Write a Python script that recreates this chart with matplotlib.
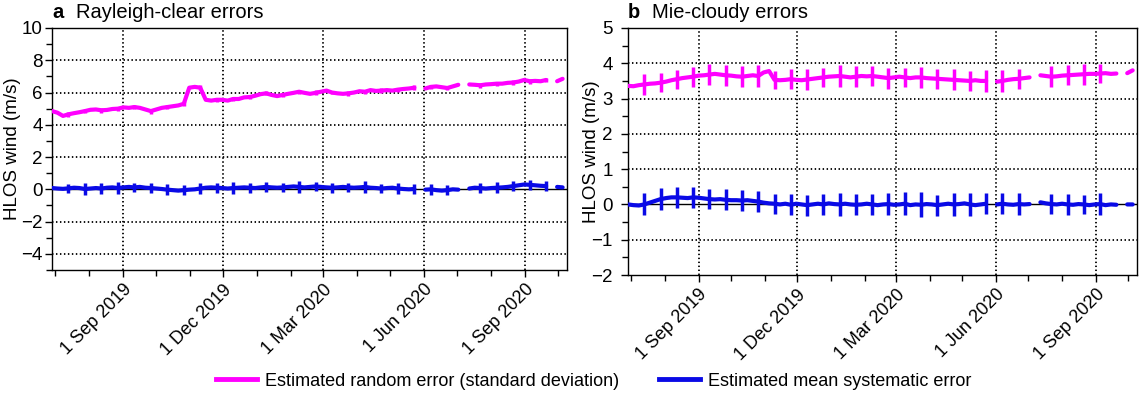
import numpy as np
import pandas as pd
import matplotlib
matplotlib.use('Agg')
import matplotlib.pyplot as plt
import matplotlib.dates as mdates
from matplotlib.ticker import MultipleLocator, FuncFormatter

plt.rcParams['font.family'] = ['Liberation Sans', 'DejaVu Sans']

nan = np.nan

# sample every 5 days from 28 Jun 2019, error bars on every 3rd sample
start_date = '2019-06-28'
n_points = 94

# panel a: Rayleigh-clear
ray_random = [4.85, 4.75, 4.55, 4.65, 4.72, 4.78, 4.85, 4.93, 4.95, 4.90,
              4.92, 4.98, 5.00, 5.08, 5.05, 5.10, 5.05, 4.95, 4.85, 4.95,
              5.05, 5.10, 5.15, 5.20, 5.30, 6.30, 6.35, 6.30, 5.55, 5.50,
              5.55, 5.55, 5.50, 5.60, 5.60, 5.70, 5.72, 5.80, 5.90, 5.95,
              5.85, 5.78, 5.85, 5.92, 5.98, 6.05, 5.98, 5.92, 5.98, 6.05,
              6.12, 6.00, 5.95, 5.92, 5.95, 6.00, 6.08, 6.05, 6.15, 6.10,
              6.12, 6.15, 6.12, 6.18, 6.22, 6.25, 6.30, nan, 6.25, 6.35,
              6.38, 6.33, 6.28, 6.38, 6.48, nan, 6.50, 6.48, 6.45, 6.50,
              6.52, 6.55, 6.55, 6.60, 6.62, 6.68, 6.78, 6.70, 6.72, 6.70,
              6.78, nan, 6.70, 6.85]
ray_system = [0.08, 0.05, 0.03, 0.06, 0.10, 0.08, 0.02, 0.05, 0.08, 0.05,
              0.10, 0.12, 0.08, 0.12, 0.15, 0.12, 0.15, 0.10, 0.08, 0.05,
              0.02, -0.02, -0.05, -0.08, -0.05, -0.02, 0.00, 0.05, 0.10, 0.12,
              0.10, 0.08, 0.05, 0.08, 0.10, 0.12, 0.10, 0.08, 0.12, 0.15,
              0.12, 0.10, 0.12, 0.15, 0.18, 0.15, 0.12, 0.15, 0.18, 0.15,
              0.12, 0.10, 0.12, 0.15, 0.12, 0.10, 0.12, 0.15, 0.10, 0.08,
              0.05, 0.08, 0.10, 0.05, 0.02, 0.00, 0.02, nan, -0.02, 0.00,
              -0.05, -0.08, -0.05, 0.00, -0.02, nan, 0.05, 0.10, 0.08, 0.05,
              0.08, 0.10, 0.12, 0.15, 0.20, 0.25, 0.30, 0.28, 0.25, 0.22,
              0.20, nan, 0.15, 0.12]
ray_random_bar = [0.15, 0.12, 0.15, 0.12, 0.15, 0.15, 0.12, 0.15, 0.15, 0.12,
                  0.12, 0.15, 0.12, 0.15, 0.12, 0.15, 0.12, 0.15, 0.12, 0.15,
                  0.12, 0.15, 0.12, 0.12, 0.12, 0.15, 0.12, 0.15, 0.15, 0.12,
                  nan]
ray_system_bar = [0.30, 0.35, 0.32, 0.35, 0.30, 0.32, 0.35, 0.30, 0.32, 0.30,
                  0.35, 0.30, 0.32, 0.30, 0.35, 0.30, 0.32, 0.30, 0.35, 0.30,
                  0.32, 0.30, 0.35, 0.32, 0.30, 0.30, 0.35, 0.30, 0.32, 0.30,
                  nan]

# panel b: Mie-cloudy
mie_random = [3.36, 3.35, 3.38, 3.40, 3.42, 3.43, 3.45, 3.48, 3.52, 3.55,
              3.58, 3.60, 3.62, 3.65, 3.66, 3.68, 3.70, 3.68, 3.66, 3.65,
              3.63, 3.62, 3.64, 3.66, 3.64, 3.74, 3.78, 3.53, 3.52, 3.53,
              3.55, 3.53, 3.52, 3.54, 3.56, 3.58, 3.60, 3.62, 3.63, 3.64,
              3.62, 3.60, 3.62, 3.64, 3.63, 3.64, 3.62, 3.60, 3.58, 3.60,
              3.62, 3.60, 3.58, 3.60, 3.60, 3.58, 3.57, 3.56, 3.55, 3.54,
              3.53, 3.52, 3.51, 3.50, 3.52, 3.50, 3.50, nan, 3.48, 3.50,
              3.53, 3.55, 3.56, 3.58, 3.60, nan, 3.66, 3.64, 3.62, 3.63,
              3.65, 3.66, 3.67, 3.68, 3.69, 3.70, 3.70, 3.71, 3.72, 3.70,
              3.71, nan, 3.72, 3.80]
mie_system = [0.00, -0.02, -0.03, 0.00, 0.05, 0.10, 0.15, 0.18, 0.20, 0.20,
              0.19, 0.18, 0.20, 0.19, 0.17, 0.15, 0.14, 0.15, 0.13, 0.12,
              0.12, 0.11, 0.12, 0.10, 0.08, 0.05, 0.03, 0.02, 0.00, 0.02,
              -0.01, 0.02, 0.00, -0.02, 0.00, 0.02, 0.00, 0.03, 0.01, 0.00,
              0.02, 0.00, -0.01, 0.00, 0.02, 0.00, -0.02, 0.00, 0.01, -0.01,
              0.00, 0.02, -0.02, 0.00, -0.01, 0.01, 0.00, -0.02, 0.00, 0.02,
              0.00, 0.01, 0.03, 0.00, -0.02, 0.00, 0.02, nan, 0.00, 0.02,
              0.00, -0.01, 0.01, 0.00, 0.01, nan, 0.06, 0.03, 0.01, 0.00,
              0.02, 0.00, -0.01, 0.01, 0.00, -0.02, 0.00, 0.01, -0.02, 0.00,
              -0.01, nan, 0.00, 0.00]
mie_random_bar = [0.30, 0.27, 0.27, 0.28, 0.30, 0.30, 0.29, 0.32, 0.25, 0.28,
                  0.30, 0.28, 0.30, 0.29, 0.28, 0.30, 0.28, 0.30, 0.29, 0.30,
                  0.28, 0.32, 0.30, 0.28, 0.28, 0.30, 0.28, 0.30, 0.28, nan,
                  nan]
mie_system_bar = [0.31, 0.31, 0.30, 0.30, 0.28, 0.30, 0.30, 0.30, 0.28, 0.30,
                  0.30, 0.30, 0.32, 0.30, 0.30, 0.30, 0.32, 0.36, 0.30, 0.32,
                  0.32, 0.30, 0.30, 0.30, 0.30, 0.28, 0.30, 0.28, 0.30, nan,
                  nan]

date_ticks = ['2019-09-01', '2019-12-01', '2020-03-01', '2020-06-01', '2020-09-01']
x_range = ('2019-06-28', '2020-10-09')

MAGENTA = '#ff00ff'
BLUE = '#0a0ae6'


def date_label(x, pos=None):
    d = mdates.num2date(x)
    return f"{d.day} {d.strftime('%b %Y')}"


def draw_panel(ax, random_err, system_err, random_bar, system_bar,
               ylim, major, minor, letter, title, label_x, ypad):
    dates = pd.date_range(start_date, periods=n_points, freq='5D')
    bar_dates = dates[3::3]
    rnd = np.array(random_err)
    sys_ = np.array(system_err)

    ax.axhline(0, color='black', lw=1.0, zorder=1)
    ax.plot(dates, rnd, color=MAGENTA, lw=3, zorder=3, solid_capstyle='round')
    ax.errorbar(bar_dates, rnd[3::3], yerr=random_bar, fmt='none',
                ecolor=MAGENTA, elinewidth=2.5, capsize=0, zorder=3)
    ax.plot(dates, sys_, color=BLUE, lw=3, zorder=3, solid_capstyle='round')
    ax.errorbar(bar_dates, sys_[3::3], yerr=system_bar, fmt='none',
                ecolor=BLUE, elinewidth=2.5, capsize=0, zorder=3)

    ax.set_ylim(*ylim)
    ax.set_xlim(pd.Timestamp(x_range[0]), pd.Timestamp(x_range[1]))
    ax.yaxis.set_major_locator(MultipleLocator(major))
    ax.yaxis.set_minor_locator(MultipleLocator(minor))
    ax.set_xticks([pd.Timestamp(d) for d in date_ticks])
    ax.xaxis.set_minor_locator(mdates.MonthLocator())
    ax.xaxis.set_major_formatter(FuncFormatter(date_label))

    # dotted grid, the zero line stays solid
    for yv in ax.get_yticks():
        if ylim[0] < yv < ylim[1] and yv != 0:
            ax.axhline(yv, color='black', lw=1.3, ls=(0, (0.8, 1.4)), zorder=1)
    for d in date_ticks:
        ax.axvline(pd.Timestamp(d), color='black', lw=1.3, ls=(0, (0.8, 1.4)), zorder=1)

    ax.tick_params(axis='both', which='major', direction='out', length=5, width=1)
    ax.tick_params(axis='both', which='minor', direction='out', length=4, width=1)
    ax.tick_params(axis='y', pad=ypad, labelsize=13.5)
    ax.tick_params(axis='x', pad=3, labelsize=13)
    for lab in ax.get_xticklabels():
        lab.set_rotation(45)
        lab.set_ha('right')
        lab.set_va('top')
        lab.set_rotation_mode('anchor')
    for s in ax.spines.values():
        s.set_linewidth(1)

    fig = ax.figure
    pos = ax.get_position()
    fig.text(pos.x0, 1 - 18.5 / 394, letter, fontsize=14.5, fontweight='bold',
             va='baseline', ha='left')
    fig.text(pos.x0 + 23.5 / 1143, 1 - 18.5 / 394, title, fontsize=14.5,
             va='baseline', ha='left')
    fig.text(label_x, (pos.y0 + pos.y1) / 2, 'HLOS wind (m/s)', fontsize=13.5,
             rotation=90, ha='center', va='center')


fig = plt.figure(figsize=(11.43, 3.94), dpi=100)
ax_a = fig.add_axes([52 / 1143, 1 - 270 / 394, 515 / 1143, 242 / 394])
ax_b = fig.add_axes([628 / 1143, 1 - 275 / 394, 509 / 1143, 247 / 394])

draw_panel(ax_a, ray_random, ray_system, ray_random_bar, ray_system_bar,
           (-5, 10), 2, 1, 'a', 'Rayleigh-clear errors', 13 / 1143, 1.5)
draw_panel(ax_b, mie_random, mie_system, mie_random_bar, mie_system_bar,
           (-2, 5), 1, 0.5, 'b', 'Mie-cloudy errors', 592 / 1143, 6)

h1, = ax_a.plot([], [], color=MAGENTA, lw=3.5)
h2, = ax_a.plot([], [], color=BLUE, lw=3.5)
fig.legend([h1, h2], ['Estimated random error (standard deviation)',
                      'Estimated mean systematic error'],
           loc='center', bbox_to_anchor=(593.5 / 1143, 1 - 381 / 394), ncol=2,
           frameon=False, fontsize=13, handlelength=2.27, handletextpad=0.44,
           columnspacing=2.2, borderpad=0)

fig.savefig('out.png', dpi=100)
